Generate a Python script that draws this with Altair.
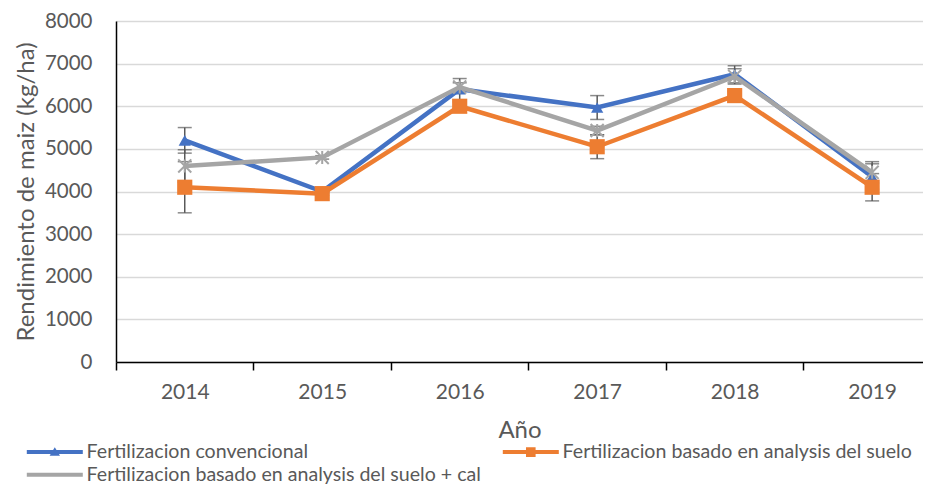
import altair as alt
import pandas as pd

years = [2014, 2015, 2016, 2017, 2018, 2019]
series = [
    "Fertilizacion convencional",
    "Fertilizacion basado en analysis del suelo",
    "Fertilizacion basado en analysis del suelo + cal",
]
conv = [5200, 4000, 6400, 5970, 6750, 4350]
conv_err = [300, 40, 250, 280, 200, 300]
suelo = [4100, 3950, 6000, 5050, 6250, 4100]
suelo_err = [600, 40, 100, 280, 100, 320]
cal = [4600, 4800, 6450, 5430, 6700, 4450]
cal_err = [380, 40, 100, 100, 180, 250]

colors = ["#4472C4", "#ED7D31", "#A5A5A5"]
y_ticks = [0, 1000, 2000, 3000, 4000, 5000, 6000, 7000, 8000]
x_ticks = [2013.5, 2014, 2014.5, 2015, 2015.5, 2016, 2016.5, 2017, 2017.5, 2018, 2018.5, 2019]

rows = []
for s, vals, errs in zip(series, [conv, suelo, cal], [conv_err, suelo_err, cal_err]):
    for yr, v, e in zip(years, vals, errs):
        rows.append({"year": yr, "serie": s, "value": v, "lo": v - e, "hi": v + e})
df = pd.DataFrame(rows)

TXT = "#595959"
FONT = "Lato, Open Sans, sans-serif"

x_axis = alt.Axis(
    values=x_ticks,
    labelExpr="datum.value % 1 == 0 ? format(datum.value, 'd') : ''",
    tickOpacity={"condition": {"test": "datum.value % 1 == 0", "value": 0}, "value": 1},
    tickSize=8, tickWidth=1.5, tickColor="#000000",
    domainColor="#000000", domainWidth=1.5, grid=False,
    labelFontSize=21, labelColor=TXT, labelPadding=11, labelOverlap=False, labelFlush=False,
    titleFontSize=24, titleColor=TXT, titleFontWeight="normal", titlePadding=16,
)
x_enc = alt.X("year:Q", scale=alt.Scale(domain=[2013.5, 2019.37], nice=False, zero=False),
              axis=x_axis, title="Año")

y_axis = alt.Axis(
    values=y_ticks, format="d", ticks=False, domainColor="#000000", domainWidth=1.5,
    gridColor="#D9D9D9", gridWidth=1.5,
    labelFontSize=20.5, labelColor=TXT, labelPadding=24,
    titleFontSize=24, titleColor=TXT, titleFontWeight="normal", titlePadding=6,
)
y_scale = alt.Scale(domain=[0, 8000], nice=False)
YT = "Rendimiento de maiz (kg/ha)"

base = alt.Chart(df)
layers = []

# error bars
for s in series:
    b = base.transform_filter(alt.datum.serie == s)
    layers.append(b.mark_rule(color=TXT, strokeWidth=1.5).encode(
        x=x_enc, y=alt.Y("lo:Q", scale=y_scale, axis=y_axis, title=YT), y2="hi:Q"))
    layers.append(b.mark_tick(orient="horizontal", size=14, thickness=1.5, color=TXT).encode(
        x=x_enc, y=alt.Y("lo:Q", scale=y_scale, axis=y_axis, title=YT)))
    layers.append(b.mark_tick(orient="horizontal", size=14, thickness=1.5, color=TXT).encode(
        x=x_enc, y=alt.Y("hi:Q", scale=y_scale, axis=y_axis, title=YT)))

marker_specs = [
    dict(shape="triangle-up", size=150, filled=True, strokeWidth=0),
    dict(shape="square", size=230, filled=True, strokeWidth=0),
    dict(shape="M-1,-1L1,1M1,-1L-1,1M0,-1L0,1", size=170, filled=False, strokeWidth=2),
]
for s, c, m in zip(series, colors, marker_specs):
    b = base.transform_filter(alt.datum.serie == s)
    layers.append(b.mark_line(color=c, strokeWidth=4.5).encode(
        x=x_enc, y=alt.Y("value:Q", scale=y_scale, axis=y_axis, title=YT)))
    layers.append(b.mark_point(color=c, opacity=1, **m).encode(
        x=x_enc, y=alt.Y("value:Q", scale=y_scale, axis=y_axis, title=YT)))

# legend symbols: a line segment with the series marker, in units of a 16px box
legend_paths = [
    "M-3.5,-0.25H3.5V0.25H-3.5Z M0,-0.6L0.65,0.45L-0.65,0.45Z",
    "M-3.5,-0.25H3.5V0.25H-3.5Z M-0.6,-0.6H0.6V0.6H-0.6Z",
    "M-3.5,-0.25H3.5V0.25H-3.5Z",
]
leg = alt.Legend(
    title=None, orient="none", direction="horizontal", legendX=-71, legendY=421,
    columns=2, columnPadding=21,
    rowPadding=2, symbolSize=256, symbolStrokeWidth=0, symbolOpacity=1,
    labelFontSize=19.6, labelColor=TXT, labelOffset=22, labelLimit=600,
)
legend_layer = base.mark_point(filled=True, opacity=0).encode(
    x=x_enc,
    y=alt.Y("value:Q", scale=y_scale, axis=y_axis, title=YT),
    color=alt.Color("serie:N", scale=alt.Scale(domain=series, range=colors), sort=series, legend=leg),
    shape=alt.Shape("serie:N", scale=alt.Scale(domain=series, range=legend_paths), sort=series, legend=leg),
)
layers.append(legend_layer)

chart = alt.layer(*layers).properties(
    width=807, height=341,
    autosize=alt.AutoSizeParams(type="none"),
    padding={"left": 108, "top": 13, "right": 0, "bottom": 124},
).configure(font=FONT).configure_view(stroke=None)

chart.save("out.html", embed_options={"renderer": "svg", "actions": False})
